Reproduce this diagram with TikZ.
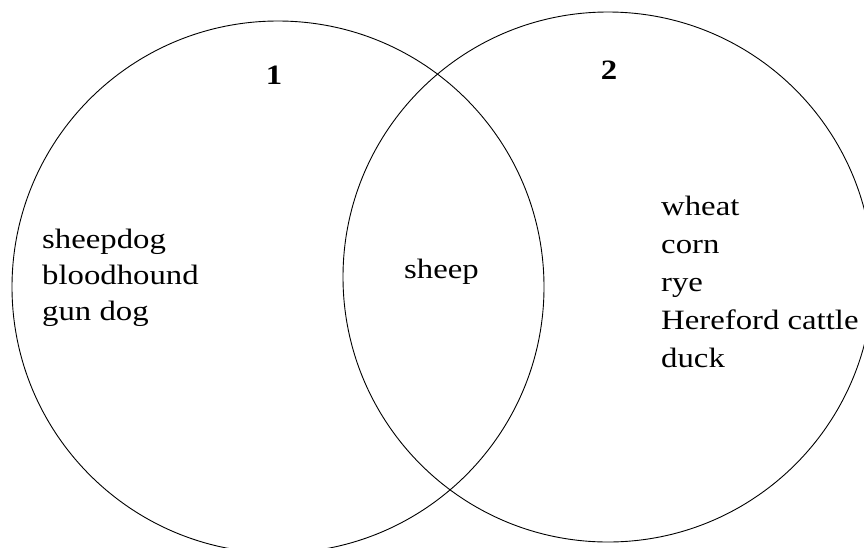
\documentclass[tikz,border=0pt]{standalone}
\usepackage{fontspec}
\setmainfont[FakeStretch=1.17]{Liberation Serif}
\begin{document}
\begin{tikzpicture}[x=1pt,y=-1pt,
  ring/.style={draw=black,line width=0.9pt},
  lbl/.style={anchor=base west,inner sep=0pt,font=\fontsize{28}{33}\selectfont},
  num/.style={anchor=base,inner sep=0pt,font=\fontsize{28}{33}\selectfont\bfseries}]
\useasboundingbox (0,0) rectangle (864,547);
\clip (0,0) rectangle (864,547);
\fill[white] (0,0) rectangle (864,547);
\coordinate (c1) at (278,287);
\coordinate (c2) at (608,277);
\draw[ring] (c1) circle[radius=266];
\draw[ring] (c2) circle[radius=265];
\node[num] (n1) at (274,84) {1};
\node[num] (n2) at (609,79) {2};
\node[lbl] (a1) at (42,248) {sheepdog};
\node[lbl] (a2) at (42,284) {bloodhound};
\node[lbl] (a3) at (42,320) {gun dog};
\node[lbl] (s) at (404,278) {sheep};
\node[lbl] (b1) at (661,215) {wheat};
\node[lbl] (b2) at (661,253) {corn};
\node[lbl] (b3) at (661,291) {rye};
\node[lbl] (b4) at (661,329) {Hereford cattle};
\node[lbl] (b5) at (661,367) {duck};
\end{tikzpicture}
\end{document}
